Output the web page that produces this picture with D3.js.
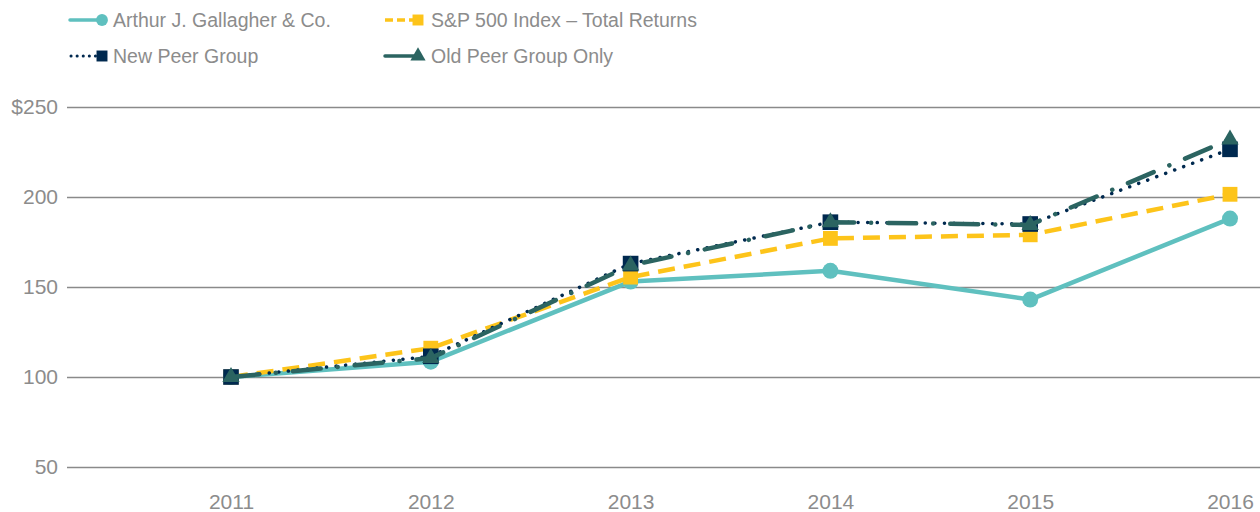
<!DOCTYPE html>
<html>
<head>
<meta charset="utf-8">
<script src="https://cdn.jsdelivr.net/npm/d3@7"></script>
<style>
  body { margin: 0; background: #fff; }
  text { font-family: "Liberation Sans", Arial, sans-serif; fill: #8c8c8c; }
  .tick line { stroke: #8a8a8a; stroke-width: 1.5; }
</style>
</head>
<body>
<div id="chart"></div>
<script>
(function(d3) {
  "use strict";

  // Données
  var years = ["2011", "2012", "2013", "2014", "2015", "2016"];
  var ajg = [100, 108.5, 153, 159, 143, 188];
  var sp500 = [100, 116, 155.5, 177, 179, 201.5];
  var newPeer = [100, 111.5, 163, 186, 185, 226.5];
  var oldPeer = [100, 110.5, 162, 186, 184.5, 232];
  var yTicks = [50, 100, 150, 200, 250];
  var seriesNames = ["Arthur J. Gallagher & Co.", "S&P 500 Index \u2013 Total Returns", "New Peer Group", "Old Peer Group Only"];

  var W = 1260, H = 512;

  // styles de chaque série
  var series = [
    {name: seriesNames[0], values: ajg, color: "#5fc0bf", width: 4.5, dash: null, cap: "round", symbol: d3.symbolCircle, size: 200},
    {name: seriesNames[1], values: sp500, color: "#fdc41a", width: 4.5, dash: "17,9", cap: "butt", symbol: d3.symbolSquare, size: 220},
    {name: seriesNames[2], values: newPeer, color: "#00294f", width: 3.5, dash: "0.1,9.5", cap: "round", symbol: d3.symbolSquare, size: 245},
    {name: seriesNames[3], values: oldPeer, color: "#2b6461", width: 4.5, dash: "28,17,0.1,17", cap: "round", symbol: d3.symbolTriangle, size: 130}
  ];

  var svg = d3.select("#chart")
    .append("svg")
    .attr("width", W)
    .attr("height", H);

  var x = d3.scalePoint()
    .domain(years)
    .range([231, 1230]);

  var y = d3.scaleLinear()
    .domain([50, 250])
    .range([467, 107]);

  // grille + étiquettes y
  var yAxis = d3.axisLeft(y)
    .tickValues(yTicks)
    .tickSize(-(W - 67))
    .tickPadding(9)
    .tickFormat(function(d) { return d === 250 ? "$" + d : d; });

  svg.append("g")
    .attr("transform", "translate(67,0)")
    .call(yAxis)
    .call(function(g) { g.select(".domain").remove(); })
    .selectAll("text")
    .style("font-size", "21px")
    .attr("fill", "#8c8c8c");

  // axe x
  svg.append("g")
    .attr("transform", "translate(0,467)")
    .call(d3.axisBottom(x).tickSize(0).tickPadding(27))
    .call(function(g) { g.select(".domain").remove(); })
    .selectAll("text")
    .style("font-size", "21px")
    .attr("fill", "#8c8c8c");

  var line = d3.line()
    .x(function(d, i) { return x(years[i]); })
    .y(function(d) { return y(d); });

  // courbes et marqueurs
  series.forEach(function(s) {
    svg.append("path")
      .datum(s.values)
      .attr("fill", "none")
      .attr("stroke", s.color)
      .attr("stroke-width", s.width)
      .attr("stroke-dasharray", s.dash)
      .attr("stroke-linecap", s.cap)
      .attr("stroke-linejoin", "round")
      .attr("d", line);

    svg.append("g")
      .selectAll("path")
      .data(s.values)
      .enter().append("path")
      .attr("transform", function(d, i) { return "translate(" + x(years[i]) + "," + y(d) + ")"; })
      .attr("d", d3.symbol(s.symbol, s.size))
      .attr("fill", s.color);
  });

  // légende
  var legendPos = [
    {x: 70, y: 20}, {x: 385, y: 20},
    {x: 70, y: 56}, {x: 385, y: 56}
  ];
  var legendSize = [110, 120, 120, 100];

  series.forEach(function(s, i) {
    var p = legendPos[i];
    var g = svg.append("g")
      .attr("transform", "translate(" + p.x + "," + p.y + ")");
    g.append("line")
      .attr("x1", i == 2 ? 1 : 0)
      .attr("x2", 30)
      .attr("stroke", s.color)
      .attr("stroke-width", i == 2 ? 3 : 3.5)
      .attr("stroke-dasharray", i == 1 ? "8,4" : (i == 2 ? "0.1,6" : null))
      .attr("stroke-linecap", i == 1 ? "butt" : "round");
    g.append("path")
      .attr("transform", "translate(" + (i % 2 == 0 ? 32 : 33) + ",0)")
      .attr("d", d3.symbol(s.symbol, legendSize[i]))
      .attr("fill", s.color);
    g.append("text")
      .attr("x", i % 2 == 0 ? 43 : 46)
      .attr("dy", "0.35em")
      .style("font-size", "19.5px")
      .text(s.name);
  });

})(d3);
</script>
</body>
</html>
